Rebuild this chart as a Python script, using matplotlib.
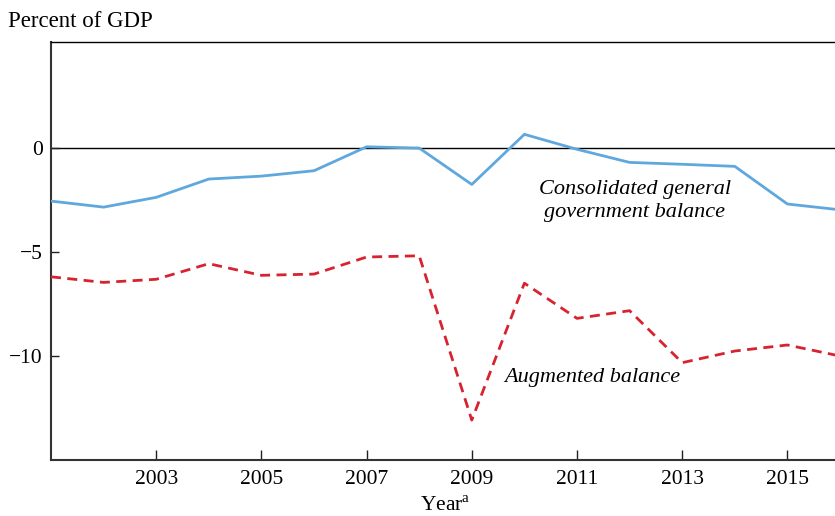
import matplotlib
matplotlib.use("Agg")
import matplotlib.pyplot as plt

years = list(range(2001, 2017))
consolidated = [-2.55, -2.84, -2.37, -1.49, -1.35, -1.09, 0.06, 0.0, -1.75, 0.66,
                -0.06, -0.69, -0.78, -0.88, -2.69, -2.97]
augmented = [-6.19, -6.46, -6.31, -5.56, -6.12, -6.06, -5.24, -5.18, -13.08, -6.5,
             -8.19, -7.82, -10.32, -9.76, -9.47, -10.0]
xticks = list(range(2003, 2016, 2))
yticks = [0, -5, -10]

plt.rcParams['font.family'] = ['Liberation Serif', 'DejaVu Serif']
plt.rcParams['mathtext.fontset'] = 'custom'
plt.rcParams['mathtext.rm'] = 'Liberation Serif'

fig = plt.figure(figsize=(8.35, 5.16), dpi=100)
ax = fig.add_axes([51/835, 1-460/516, 789/835, 418/516])

ax.axhline(0, color='black', lw=1.0, zorder=1)
ax.plot(years, consolidated, color='#5fa8de', lw=2.0, zorder=3)
ax.plot(years, augmented, color='#d7232f', lw=2.0, dashes=(3.6, 2.3), zorder=3)

ax.set_xlim(2001, 2016)
ax.set_ylim(-15, 5.1)
ax.set_xticks(xticks)
ax.set_yticks(yticks)
ax.set_xticklabels([str(x) for x in xticks])
ax.set_yticklabels(['0', '\u22125', '\u221210'])
ax.tick_params(axis='both', direction='in', labelsize=15.5, colors='#222222')
ax.tick_params(axis='x', length=7, width=1.0, pad=7)
ax.tick_params(axis='y', length=6, width=1.0, pad=6)
for lab in ax.get_xticklabels() + ax.get_yticklabels():
    lab.set_color('black')

ax.spines['right'].set_visible(False)
ax.spines['top'].set_color('black')
ax.spines['top'].set_linewidth(1.0)
ax.spines['left'].set_color('#333333')
ax.spines['left'].set_linewidth(1.5)
ax.spines['bottom'].set_color('#333333')
ax.spines['bottom'].set_linewidth(1.5)

ax.set_xlabel(r'Year$^{\mathrm{a}}$', fontsize=15.5, labelpad=6)

ax.text(2012.1, -2.55, 'Consolidated general\ngovernment balance', fontsize=16,
        style='italic', ha='center', va='center', linespacing=1.25)
ax.text(2011.3, -11.05, 'Augmented balance', fontsize=16, style='italic',
        ha='center', va='center')

fig.text(8/835, 1-27/516, 'Percent of GDP', fontsize=16.5, ha='left', va='baseline')

fig.savefig('out.png', dpi=100)
